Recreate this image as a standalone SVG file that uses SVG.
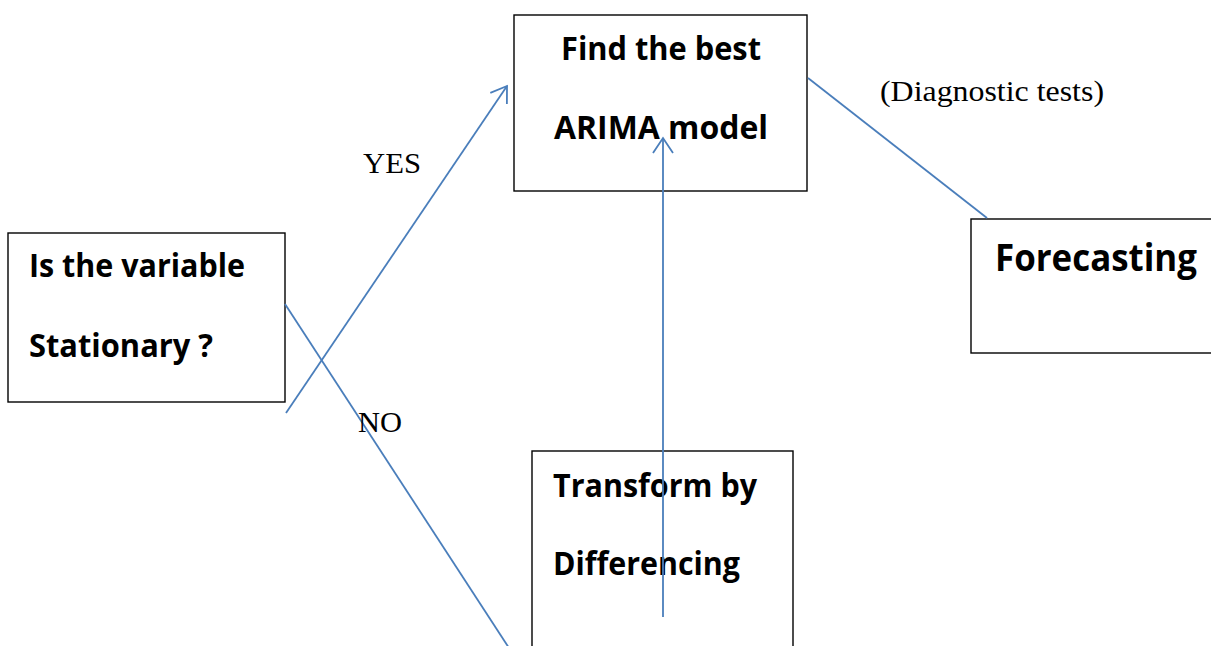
<svg xmlns="http://www.w3.org/2000/svg" width="1211" height="646" viewBox="0 0 1211 646">
<defs>
<style>
.box{fill:#fff;stroke:#000;stroke-width:1.4}
.lbl{font-family:"Open Sans","Liberation Sans",sans-serif;font-weight:700;fill:#000}
.ser{font-family:"Liberation Serif","Times New Roman",serif;fill:#000}
.con{stroke:#4A7EBB;stroke-width:1.8;fill:none}
</style>
<marker id="arr" viewBox="-17 -12 19 24" refX="0" refY="0" markerWidth="19" markerHeight="24" markerUnits="userSpaceOnUse" orient="auto">
<path d="M-15,-10 L0,0 L-15,10" fill="none" stroke="#4A7EBB" stroke-width="1.8"/>
</marker>
</defs>
<rect width="1211" height="646" fill="#fff"/>
<g id="node-stationary">
<rect class="box" x="8" y="233" width="277" height="169"/>
<text class="lbl" x="29" y="277" font-size="33" textLength="216" lengthAdjust="spacingAndGlyphs">Is the variable</text>
<text class="lbl" x="29" y="357" font-size="33" textLength="184" lengthAdjust="spacingAndGlyphs">Stationary ?</text>
</g>
<g id="node-arima">
<rect class="box" x="514" y="15" width="293" height="176"/>
<text class="lbl" x="561" y="60" font-size="33" textLength="200" lengthAdjust="spacingAndGlyphs">Find the best</text>
<text class="lbl" x="554" y="139" font-size="33" textLength="214" lengthAdjust="spacingAndGlyphs">ARIMA model</text>
</g>
<g id="node-forecasting">
<rect class="box" x="971" y="219" width="250" height="134"/>
<text class="lbl" x="995" y="271" font-size="38" textLength="202" lengthAdjust="spacingAndGlyphs">Forecasting</text>
</g>
<g id="node-transform">
<rect class="box" x="532" y="451" width="261" height="210"/>
<text class="lbl" x="553" y="497" font-size="33" textLength="204" lengthAdjust="spacingAndGlyphs">Transform by</text>
<text class="lbl" x="553" y="575" font-size="33" textLength="187" lengthAdjust="spacingAndGlyphs">Differencing</text>
</g>
<g id="connectors">
<line class="con" x1="286" y1="413" x2="507" y2="86" marker-end="url(#arr)"/>
<line class="con" x1="285" y1="304" x2="509" y2="648"/>
<line class="con" x1="663" y1="617" x2="663" y2="138" marker-end="url(#arr)"/>
<line class="con" x1="808" y1="78" x2="987" y2="218"/>
</g>
<g id="labels">
<text class="ser" x="363" y="173" font-size="30" textLength="58" lengthAdjust="spacingAndGlyphs">YES</text>
<text class="ser" x="358" y="432" font-size="30" textLength="44" lengthAdjust="spacingAndGlyphs">NO</text>
<text class="ser" x="880" y="101" font-size="30" textLength="224" lengthAdjust="spacingAndGlyphs">(Diagnostic tests)</text>
</g>
</svg>
